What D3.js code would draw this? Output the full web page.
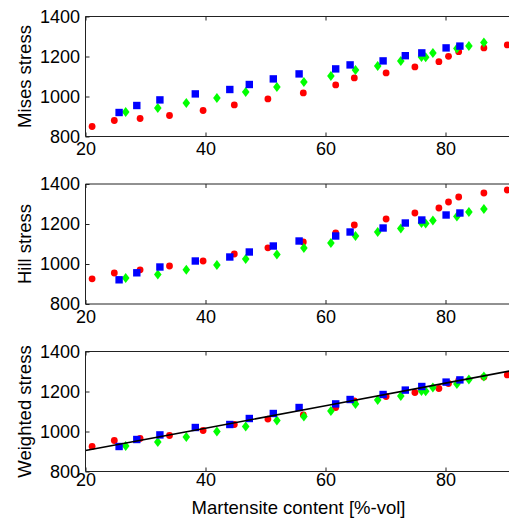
<!DOCTYPE html>
<html>
<head>
<meta charset="utf-8">
<script src="https://cdn.jsdelivr.net/npm/d3@7"></script>
<style>
  body { margin: 0; background: #fff; }
  svg { display: block; }
  text { font-family: "Liberation Sans", Arial, sans-serif; fill: #000; }
</style>
</head>
<body>
<svg id="chart" width="509" height="518"></svg>
<script>
// x positions (martensite content) per series
const redX   = [21.1, 24.8, 29.1, 34.0, 39.6, 44.8, 50.4, 56.3, 61.7, 64.8, 70.1, 74.9, 78.9, 80.5, 82.2, 86.4, 90.3];
const greenX = [26.7, 32.05, 36.8, 41.9, 46.7, 51.9, 56.4, 60.9, 65.0, 68.7, 72.55, 76.0, 76.7, 77.9, 81.9, 83.9, 86.4];
const blueX  = [25.6, 28.55, 32.4, 38.3, 44.05, 47.3, 51.3, 55.6, 61.7, 64.1, 69.6, 73.3, 76.05, 80.1, 82.4];

// Mises stress
const misesRed   = [850, 880, 890, 905, 930, 958, 988, 1018, 1058, 1093, 1118, 1148, 1174, 1201, 1224, 1243, 1258];
const misesGreen = [923, 943, 968, 993, 1023, 1048, 1073, 1102, 1133, 1152, 1177, 1198, 1196, 1218, 1240, 1253, 1270];
const misesBlue  = [920, 955, 983, 1013, 1035, 1060, 1088, 1113, 1138, 1158, 1178, 1204, 1218, 1243, 1252];

// Hill stress
const hillRed   = [926, 955, 971, 990, 1015, 1050, 1081, 1110, 1155, 1195, 1225, 1255, 1280, 1310, 1335, 1355, 1370];
const hillGreen = [930, 948, 971, 995, 1025, 1048, 1080, 1105, 1140, 1160, 1178, 1205, 1203, 1218, 1238, 1260, 1275];
const hillBlue  = [921, 956, 985, 1015, 1035, 1060, 1090, 1115, 1140, 1160, 1180, 1205, 1220, 1245, 1255];

// Weighted stress
const weightedRed   = [925, 955, 965, 980, 1005, 1035, 1062, 1083, 1120, 1153, 1175, 1195, 1215, 1240, 1256, 1272, 1283];
const weightedGreen = [928, 948, 973, 1000, 1025, 1055, 1075, 1103, 1137, 1158, 1177, 1203, 1201, 1220, 1237, 1260, 1275];
const weightedBlue  = [925, 960, 983, 1020, 1035, 1065, 1090, 1120, 1138, 1160, 1185, 1207, 1225, 1247, 1258];

// fitted line in the weighted panel
const fitX = [20, 40, 60, 80, 91];
const fitY = [905, 1016, 1129, 1242, 1304];

const xTicks = [20, 40, 60, 80];
const yTicks = [800, 1000, 1200, 1400];
const yTitles = ["Mises stress", "Hill stress", "Weighted stress"];
const xTitle = "Martensite content [%-vol]";

const panels = [
    {title: yTitles[0], red: misesRed, green: misesGreen, blue: misesBlue, fit: false},
    {title: yTitles[1], red: hillRed, green: hillGreen, blue: hillBlue, fit: false},
    {title: yTitles[2], red: weightedRed, green: weightedGreen, blue: weightedBlue, fit: true}
];

const svg = d3.select("#chart");
const left = 85.5;
const plotH = 120;
const tops = [16.5, 184, 351.5];

const xScale = d3.scaleLinear().domain([20, 91]).range([left, left + 71 * 6]);

panels.forEach((p, i) => {
    const top = tops[i];
    const yScale = d3.scaleLinear().domain([800, 1400]).range([top + plotH, top]);
    const g = svg.append("g");

    // series: red circles, green diamonds, blue squares
    g.selectAll(".red")
     .data(p.red)
     .enter()
     .append("circle")
     .attr("cx", (d, j) => xScale(redX[j]))
     .attr("cy", d => yScale(d))
     .attr("r", 3.4)
     .style("fill", "#ff0000");

    g.selectAll(".green")
     .data(p.green)
     .enter()
     .append("path")
     .attr("d", (d, j) => {
         const cx = xScale(greenX[j]), cy = yScale(d);
         return `M${cx},${cy - 5}L${cx + 3.8},${cy}L${cx},${cy + 5}L${cx - 3.8},${cy}Z`;
     })
     .style("fill", "#00ff00");

    g.selectAll(".blue")
     .data(p.blue)
     .enter()
     .append("rect")
     .attr("x", (d, j) => xScale(blueX[j]) - 3.7)
     .attr("y", d => yScale(d) - 3.7)
     .attr("width", 7.4)
     .attr("height", 7.4)
     .style("fill", "#0000ff");

    if (p.fit) {
        const line = d3.line()
                       .x((d, j) => xScale(fitX[j]))
                       .y(d => yScale(d));
        g.append("path")
         .attr("d", line(fitY))
         .style("fill", "none")
         .style("stroke", "#000")
         .style("stroke-width", 1.6);
    }

    // axes box (right side falls outside the picture)
    const xBottom = d3.axisBottom(xScale).tickValues(xTicks).tickSizeInner(-4).tickSizeOuter(0).tickPadding(i == 2 ? 2 : 6);
    const xTop = d3.axisTop(xScale).tickValues(xTicks).tickSizeInner(-4).tickSizeOuter(0).tickFormat("");
    const yLeft = d3.axisLeft(yScale).tickValues(yTicks).tickSizeInner(-4).tickSizeOuter(0).tickPadding(5.5).tickFormat(d3.format("d"));

    const gb = g.append("g").attr("transform", `translate(0,${top + plotH})`).call(xBottom);
    const gt = g.append("g").attr("transform", `translate(0,${top})`).call(xTop);
    const gl = g.append("g").attr("transform", `translate(${left},0)`).call(yLeft);

    [gb, gt, gl].forEach(a => {
        a.select(".domain").style("stroke", "#222");
        a.selectAll(".tick line").style("stroke", "#222");
        a.selectAll("text")
         .style("font-family", '"Liberation Sans", Arial, sans-serif')
         .style("font-size", "18px")
         .style("fill", "#000");
    });
    gl.select(".domain").attr("d", `M0,${top + plotH}V${top}`);
    gb.select(".domain").attr("d", `M${left},0H509`);
    gt.select(".domain").attr("d", `M${left},0H509`);

    svg.append("text")
       .attr("transform", `translate(30.5,${top + plotH / 2}) rotate(-90)`)
       .attr("text-anchor", "middle")
       .style("font-size", "18.5px")
       .text(p.title);
});

svg.append("text")
   .attr("x", 298.5)
   .attr("y", 514)
   .attr("text-anchor", "middle")
   .style("font-size", "18.5px")
   .text(xTitle);
</script>
</body>
</html>
